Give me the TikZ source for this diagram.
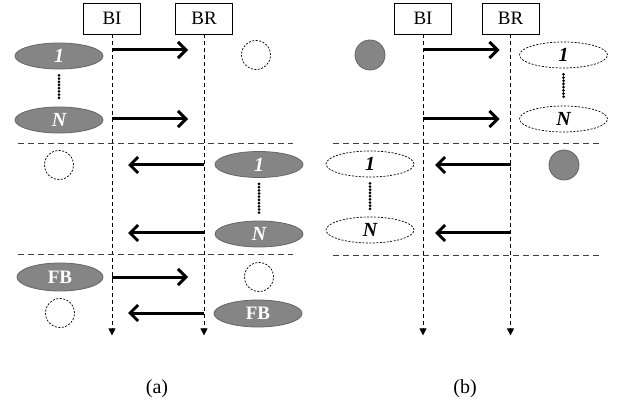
\documentclass[tikz,border=0pt]{standalone}
\usepackage{fontspec}
\setmainfont{Liberation Serif}
\usetikzlibrary{arrows.meta,shapes.geometric}
\definecolor{procgray}{gray}{0.52}
\begin{document}
\begin{tikzpicture}[x=1pt,y=-1pt,
		every node/.style={font=\fontsize{19}{21}\selectfont},
		lane/.style={draw,line width=0.8pt,minimum width=57pt,minimum height=31pt,inner sep=0pt},
		life/.style={draw,line width=0.8pt,dash pattern=on 4pt off 3pt,-{Triangle[length=7pt,width=7pt]}},
		sep/.style={draw=black!75,line width=0.9pt,dash pattern=on 6pt off 4pt},
		msg/.style={line width=3pt,-{Straight Barb[length=8pt,width=16pt]}},
		proc/.style={ellipse,fill=procgray,draw=black!60,line width=0.8pt,minimum width=88pt,minimum height=26pt,inner sep=0pt,text=white,font=\fontsize{20}{21}\selectfont\bfseries\itshape},
		ghost/.style={ellipse,draw,line width=0.7pt,dash pattern=on 2pt off 1.5pt,minimum width=88pt,minimum height=26pt,inner sep=0pt,font=\fontsize{20}{21}\selectfont\bfseries\itshape},
		slot/.style={circle,draw,line width=0.7pt,dash pattern=on 2pt off 1.5pt,minimum size=29pt,inner sep=0pt},
		busy/.style={circle,fill=procgray,draw=black!60,line width=0.8pt,minimum size=30pt,inner sep=0pt},
		vdots/.style={line width=3pt,line cap=round,dash pattern=on 0pt off 3.2pt,shorten <=6pt,shorten >=6pt}]
	\useasboundingbox (0,0) rectangle (621,414);
	% message rows
	\coordinate (r1) at (0,50);
	\coordinate (r2) at (0,119);
	\coordinate (r3) at (0,165);
	\coordinate (r4) at (0,233);
	\coordinate (r5) at (0,277);
	\coordinate (r6) at (0,313);

	% ---- (a)
	\node[lane] (biA) at (112,18.5) {BI};
	\node[lane] (brA) at (204,18.5) {BR};
	\foreach \l in {biA,brA}{\draw[life] (\l.south) -- ++(0,301);}
	\draw[sep] (18,143) -- (293,143);
	\draw[sep] (18,254) -- (293,254);

	\node[proc] (a1) at (59,56) {1};
	\node[proc] (aN) at (59,120) {N};
	\draw[vdots] (a1) -- (aN);
	\node[slot] (aS1) at (256,55) {};
	\draw[msg,shorten >=16pt] (biA |- r1) -- (brA |- r1);
	\draw[msg,shorten >=16pt] (biA |- r2) -- (brA |- r2);

	\node[slot] (aS2) at (59,165) {};
	\node[proc] (b1) at (259,164.5) {1};
	\node[proc] (bN) at (259,234) {N};
	\draw[vdots] (b1) -- (bN);
	\draw[msg,shorten >=16pt] (brA |- r3) -- (biA |- r3);
	\draw[msg,shorten >=16pt] (brA |- r4) -- (biA |- r4);

	\node[proc,font=\fontsize{19}{21}\selectfont\bfseries,minimum width=86pt,minimum height=28pt] (fbI) at (60,277) {FB};
	\node[slot] (aS3) at (259,277) {};
	\node[slot] (aS4) at (60,313) {};
	\node[proc,font=\fontsize{19}{21}\selectfont\bfseries,minimum height=27pt] (fbR) at (258,313.5) {FB};
	\draw[msg,shorten >=16pt] (biA |- r5) -- (brA |- r5);
	\draw[msg,shorten >=16pt] (brA |- r6) -- (biA |- r6);

	% ---- (b)
	\node[lane] (biB) at (423,18.5) {BI};
	\node[lane] (brB) at (510.5,18.5) {BR};
	\foreach \l in {biB,brB}{\draw[life] (\l.south) -- ++(0,301);}
	\draw[sep] (333,143) -- (603,143);
	\draw[sep] (333,255) -- (603,255);

	\node[busy] (bB1) at (370,55) {};
	\node[ghost] (c1) at (563.5,55) {1};
	\node[ghost] (cN) at (563.5,119) {N};
	\draw[vdots] (c1) -- (cN);
	\draw[msg,shorten >=11pt] (biB |- r1) -- (brB |- r1);
	\draw[msg,shorten >=11pt] (biB |- r2) -- (brB |- r2);

	\node[ghost] (d1) at (370,164) {1};
	\node[ghost] (dN) at (370,230) {N};
	\draw[vdots] (d1) -- (dN);
	\node[busy] (bB2) at (564,165) {};
	\draw[msg,shorten >=12pt] (brB |- r3) -- (biB |- r3);
	\draw[msg,shorten >=12pt] (brB |- r4) -- (biB |- r4);

	\node[font=\fontsize{20}{22}\selectfont] (capA) at (157,389) {(a)};
	\node[font=\fontsize{20}{22}\selectfont] (capB) at (465,389) {(b)};
\end{tikzpicture}
\end{document}
